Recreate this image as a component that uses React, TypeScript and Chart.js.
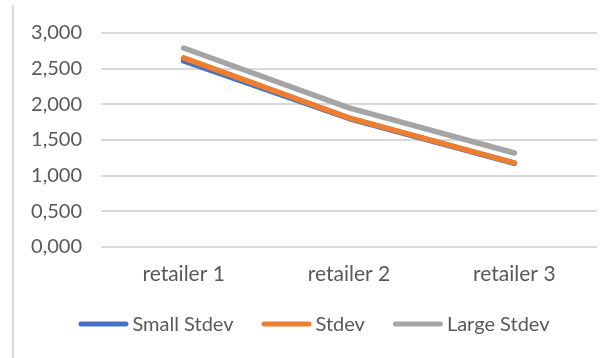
import React, { useEffect, useRef } from "react";
import { Chart, registerables } from "chart.js";

Chart.register(...registerables);

const categories = ["retailer 1", "retailer 2", "retailer 3"];
const smallStdev = [2.61, 1.8, 1.17];
const stdev = [2.65, 1.81, 1.178];
const largeStdev = [2.79, 1.95, 1.316];
const seriesNames = ["Small Stdev", "Stdev", "Large Stdev"];
const seriesColors = ["#4472C4", "#ED7D31", "#A5A5A5"];

const FONT = "Lato, 'Liberation Sans', sans-serif";
const TEXT = "#595959";

const legendPlugin = {
  id: "customLegend",
  afterDraw(chart: any) {
    const ctx = chart.ctx;
    const items = chart.data.datasets.map((d: any) => ({ label: d.label, color: d.borderColor }));
    ctx.save();
    ctx.font = `20px ${FONT}`;
    const lineW = 50;
    const gapText = 4;
    const gapItem = 28;
    const widths = items.map((it: any) => lineW + gapText + ctx.measureText(it.label).width);
    const total = widths.reduce((a: number, b: number) => a + b, 0) + gapItem * (items.length - 1);
    let x = 314 - total / 2;
    const y = 324;
    items.forEach((it: any, i: number) => {
      ctx.strokeStyle = it.color;
      ctx.lineWidth = 5;
      ctx.lineCap = "round";
      ctx.beginPath();
      ctx.moveTo(x + 2.5, y);
      ctx.lineTo(x + lineW - 2.5, y);
      ctx.stroke();
      ctx.fillStyle = TEXT;
      ctx.textBaseline = "middle";
      ctx.textAlign = "left";
      ctx.fillText(it.label, x + lineW + gapText, y + 1);
      x += widths[i] + gapItem;
    });
    ctx.restore();
  },
};

export default function App() {
  const ref = useRef<HTMLCanvasElement | null>(null);
  useEffect(() => {
    document.body.style.margin = "0";
    const seriesData = [smallStdev, stdev, largeStdev];
    const chart = new Chart(ref.current as HTMLCanvasElement, {
      type: "line",
      data: {
        labels: categories,
        datasets: seriesData.map((d, i) => ({
          label: seriesNames[i],
          data: d,
          borderColor: seriesColors[i],
          backgroundColor: seriesColors[i],
          borderWidth: 5.5,
          borderCapStyle: "round" as const,
          borderJoinStyle: "round" as const,
          pointRadius: 0,
          tension: 0,
          order: 2 - i,
        })),
      },
      options: {
        animation: false,
        responsive: false,
        layout: { padding: { top: 33, right: 13, bottom: 56, left: 0 } },
        plugins: { legend: { display: false }, tooltip: { enabled: false } },
        scales: {
          x: {
            offset: true,
            grid: { display: false, drawTicks: false, offset: true },
            border: { display: false },
            ticks: { color: TEXT, font: { family: FONT, size: 21 }, padding: 15, maxRotation: 0, autoSkip: false },
          },
          y: {
            min: 0,
            max: 3,
            afterFit: (s: any) => {
              s.width = 101;
            },
            grid: { color: "#d9d9d9", lineWidth: 2, drawTicks: false },
            border: { display: false },
            ticks: {
              stepSize: 0.5,
              color: TEXT,
              padding: 19,
              font: { family: FONT, size: 20 },
              callback: (v: any) => Number(v).toFixed(3).replace(".", ","),
            },
          },
        },
      },
      plugins: [legendPlugin],
    });
    return () => chart.destroy();
  }, []);
  return (
    <div style={{ position: "relative", width: 610, height: 358, background: "#fff" }}>
      <canvas ref={ref} width={610} height={358} style={{ display: "block" }} />
      <div style={{ position: "absolute", left: 12, top: 5, width: 2, height: 353, background: "#d9d9d9" }} />
    </div>
  );
}
